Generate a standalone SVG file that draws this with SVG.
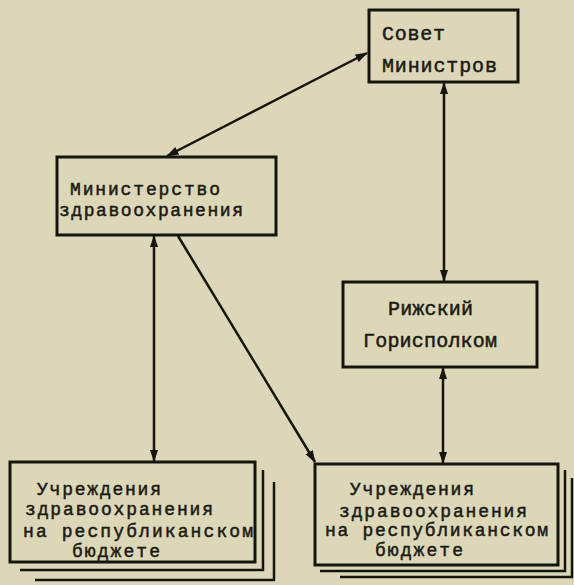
<svg xmlns="http://www.w3.org/2000/svg" width="574" height="585" viewBox="0 0 574 585">
<style>
.box{fill:none;stroke:#151510;stroke-width:3}
.sh{fill:none;stroke:#151510;stroke-width:2.5}
.ln{fill:none;stroke:#151510;stroke-width:2.5}
.t{font-family:"Liberation Mono","DejaVu Sans Mono",monospace;font-size:18px;fill:#1a1a14;stroke:#1a1a14;stroke-width:0.5}
.tb{font-size:20px}
</style>
<defs>
<marker id="ah" viewBox="0 0 12 8" refX="11" refY="4" markerWidth="5" markerHeight="3.6" orient="auto-start-reverse" markerUnits="strokeWidth">
<path d="M0,0 L12,4 L0,8 z" fill="#151510"/>
</marker>
</defs>
<rect width="574" height="585" fill="#dcd8b7"/>
<g id="connectors">
<line class="ln" x1="367" y1="53" x2="167" y2="156" marker-start="url(#ah)" marker-end="url(#ah)"/>
<line class="ln" x1="444" y1="83" x2="444" y2="281" marker-start="url(#ah)" marker-end="url(#ah)"/>
<line class="ln" x1="154" y1="236" x2="154" y2="461" marker-start="url(#ah)" marker-end="url(#ah)"/>
<line class="ln" x1="178" y1="236" x2="315" y2="462" marker-end="url(#ah)"/>
<line class="ln" x1="443" y1="368" x2="443" y2="463" marker-start="url(#ah)" marker-end="url(#ah)"/>
</g>
<g id="sovet">
<rect class="box" x="369" y="10" width="149" height="72"/>
<text class="t tb" x="382" y="40" textLength="63">Совет</text>
<text class="t tb" x="382" y="72" textLength="115">Министров</text>
</g>
<g id="ministerstvo">
<rect class="box" x="57" y="157" width="219" height="78"/>
<text class="t" x="70" y="195" textLength="150">Министерство</text>
<text class="t" x="59" y="216" textLength="184">здравоохранения</text>
</g>
<g id="gorispolkom">
<rect class="box" x="343" y="282" width="194" height="85"/>
<text class="t tb" x="388" y="315" textLength="85">Рижский</text>
<text class="t tb" x="363" y="347" textLength="134">Горисполком</text>
</g>
<g id="uchr-left">
<polyline class="sh" points="263,470 263,570 20,570"/>
<polyline class="sh" points="274,482 274,580 35,580"/>
<rect class="box" x="10" y="462" width="245" height="100" fill="#dcd8b7"/>
<text class="t" x="37" y="495" textLength="124">Учреждения</text>
<text class="t" x="25" y="515" textLength="188">здравоохранения</text>
<text class="t" x="23" y="537" textLength="230">на республиканском</text>
<text class="t" x="72" y="557" textLength="88">бюджете</text>
</g>
<g id="uchr-right">
<polyline class="sh" points="565,470 565,571 320,571"/>
<polyline class="sh" points="572,478 572,577 340,577"/>
<rect class="box" x="315" y="464" width="243" height="101" fill="#dcd8b7"/>
<text class="t" x="350" y="495" textLength="124">Учреждения</text>
<text class="t" x="339" y="517" textLength="188">здравоохранения</text>
<text class="t" x="325" y="536" textLength="223">на республиканском</text>
<text class="t" x="375" y="556" textLength="88">бюджете</text>
</g>
</svg>
